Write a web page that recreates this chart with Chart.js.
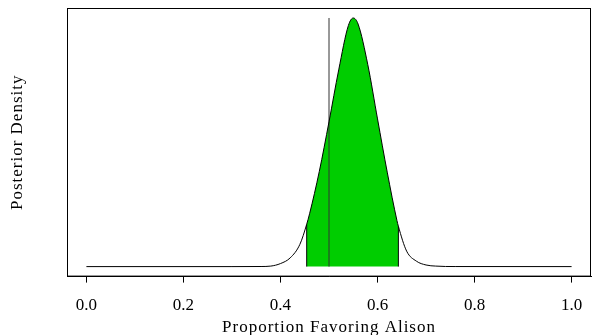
<!DOCTYPE html>
<html>
<head>
<meta charset="utf-8">
<script src="https://cdn.jsdelivr.net/npm/chart.js@4"></script>
<style>
  html, body { margin: 0; padding: 0; background: #fff; overflow: hidden; }
  #wrap { width: 592px; height: 335px; position: relative; }
  #postChart { display: block; }
</style>
</head>
<body>
<div id="wrap"><canvas id="postChart"></canvas></div>
<script>
// proportion grid and posterior density
const proportion = [0, 0.30, 0.36, 0.38, 0.40, 0.42, 0.44, 0.454, 0.46, 0.48, 0.50, 0.52, 0.54, 0.55,
  0.56, 0.58, 0.60, 0.62, 0.64, 0.643, 0.66, 0.68, 0.70, 0.72, 0.76, 1.0]
const density = [0, 0, 0.003, 0.016, 0.094, 0.27, 0.69, 1.31, 1.64, 2.95, 4.49, 6.10, 7.48, 7.71,
  7.52, 6.26, 4.58, 2.93, 1.43, 1.25, 0.48, 0.17, 0.05, 0.016, 0.002, 0]
const hpdLow = 0.454
const hpdHigh = 0.643
const refLine = 0.5
const xTicks = [0, 0.2, 0.4, 0.6, 0.8, 1.0]

const serif = '"Liberation Serif", "DejaVu Serif", serif'
const peak = Math.max(...density)

const curve = proportion.map((p, i) => ({ x: p, y: density[i] }))
const shaded = curve.filter(pt => pt.x >= hpdLow && pt.x <= hpdHigh)
const yAt = x => curve.find(pt => pt.x === x).y

const frame = {
  id: 'frame',
  afterDraw(chart) {
    const { ctx, chartArea: a } = chart
    ctx.save()
    ctx.strokeStyle = '#000'
    ctx.lineWidth = 1
    ctx.strokeRect(a.left + 0.5, a.top + 0.5, a.right - a.left - 1, a.bottom - a.top - 1)
    ctx.fillStyle = '#000'
    ctx.font = '17px ' + serif
    ctx.letterSpacing = '1px'
    ctx.textAlign = 'center'
    ctx.textBaseline = 'alphabetic'
    ctx.fillText('Proportion Favoring Alison', (a.left + a.right) / 2, 331.5)
    ctx.translate(22, (a.top + a.bottom) / 2)
    ctx.rotate(-Math.PI / 2)
    ctx.fillText('Posterior Density', 0, 0)
    ctx.restore()
  }
}

new Chart(document.getElementById('postChart'), {
  type: 'line',
  data: {
    datasets: [
      {
        data: curve,
        borderColor: '#000',
        borderWidth: 1,
        pointRadius: 0,
        cubicInterpolationMode: 'monotone',
        fill: false,
        order: 0
      },
      {
        data: shaded,
        borderWidth: 0,
        borderColor: 'rgba(0,0,0,0)',
        backgroundColor: '#00CD00',
        pointRadius: 0,
        cubicInterpolationMode: 'monotone',
        fill: 'origin',
        order: 3
      },
      {
        data: [{ x: hpdLow, y: 0 }, { x: hpdLow, y: yAt(hpdLow) }],
        borderColor: '#000',
        borderWidth: 1,
        pointRadius: 0,
        order: 1
      },
      {
        data: [{ x: hpdHigh, y: 0 }, { x: hpdHigh, y: yAt(hpdHigh) }],
        borderColor: '#000',
        borderWidth: 1,
        pointRadius: 0,
        order: 1
      },
      {
        data: [{ x: refLine, y: 0 }, { x: refLine, y: peak }],
        borderColor: '#333',
        borderWidth: 1,
        pointRadius: 0,
        order: 1
      }
    ]
  },
  options: {
    responsive: true,
    maintainAspectRatio: false,
    animation: false,
    layout: { padding: { left: 67, right: 1, top: 8, bottom: 6 } },
    plugins: { legend: { display: false }, tooltip: { enabled: false } },
    scales: {
      x: {
        type: 'linear',
        min: -0.04,
        max: 1.04,
        afterBuildTicks: s => { s.ticks = xTicks.map(v => ({ value: v })) },
        afterFit: s => { s.paddingLeft = 0; s.paddingRight = 0 },
        ticks: {
          callback: v => v.toFixed(1),
          color: '#000',
          font: { family: serif, size: 17 },
          padding: 13,
          maxRotation: 0,
          autoSkip: false
        },
        grid: { drawOnChartArea: false, drawTicks: true, tickLength: 6, color: '#000' },
        border: { display: true, color: '#000' }
      },
      y: {
        display: false,
        min: -0.31,
        max: 8.02
      }
    }
  },
  plugins: [frame]
})
</script>
</body>
</html>
